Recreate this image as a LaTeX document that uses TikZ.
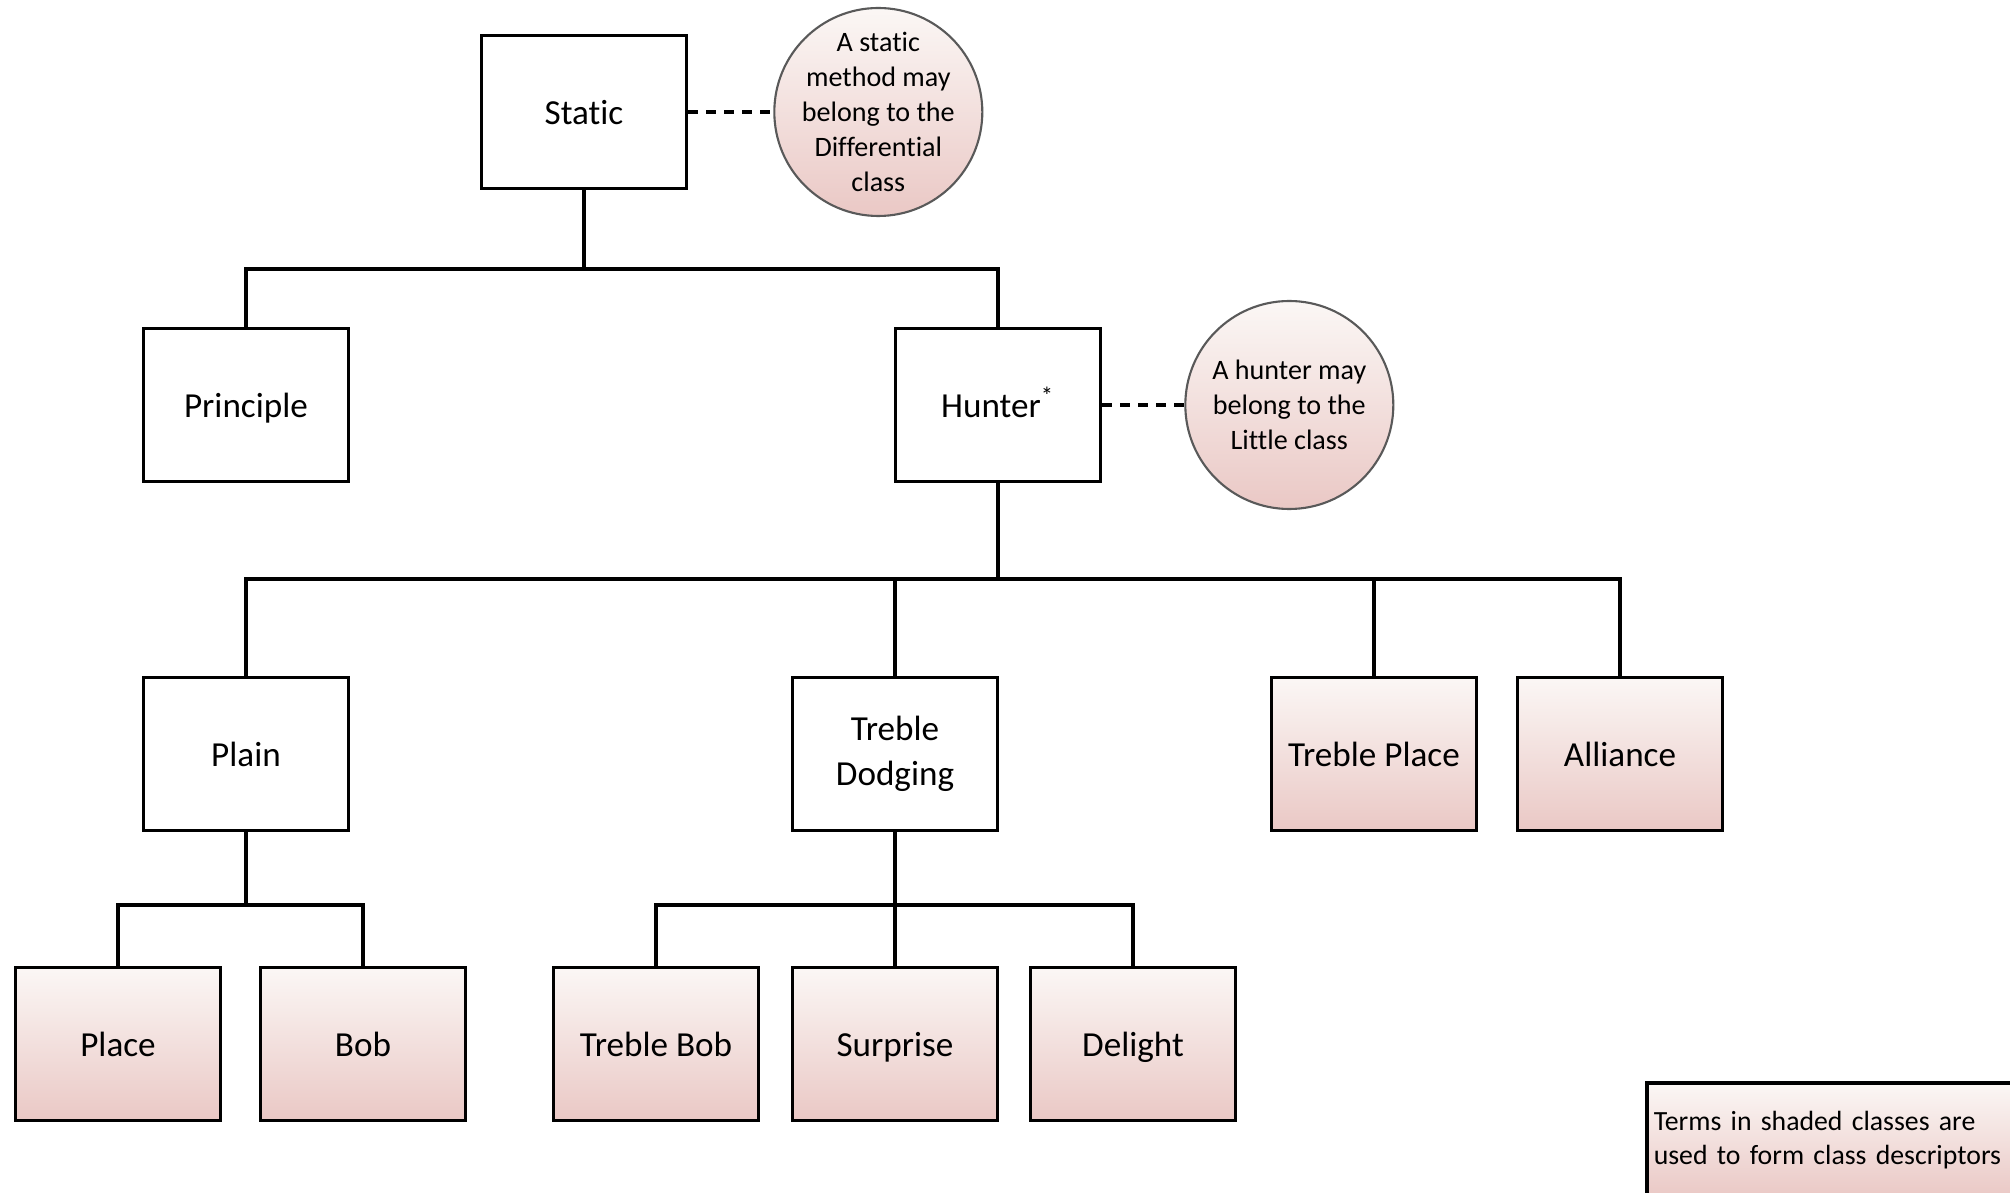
\documentclass[tikz,border=0pt]{standalone}
\usepackage{fontspec}
\setmainfont[Ligatures={NoCommon}]{Carlito}
\usetikzlibrary{positioning}
\definecolor{shadetop}{HTML}{FBF7F5}
\definecolor{shadebot}{HTML}{EAC8C5}
\tikzset{
  classbox/.style={draw, line width=1pt, minimum width=2.05cm, minimum height=1.53cm,
    align=center, inner sep=0pt, font=\fontsize{10}{12.8}\selectfont},
  oneline/.style={text height=0.92em, text depth=0.2em},
  shadedbox/.style={classbox, oneline, top color=shadetop, bottom color=shadebot},
  note/.style={circle, draw=black!65, line width=0.6pt, minimum size=2.08cm, inner sep=-0.15cm,
    top color=shadetop, bottom color=shadebot, align=center, font=\fontsize{8}{9.9}\selectfont},
  link/.style={line width=1pt},
  notelink/.style={line width=1pt, dash pattern=on 0.1cm off 0.08cm},
}

\begin{document}
\begin{tikzpicture}
    \useasboundingbox (0,0) rectangle (20.1,-11.93);
    % define classes
    % top
    \node[classbox, oneline] (static) at (5.84,-1.12) {Static};
    \node[note, right=0.85cm of static] (staticnote) {A static\\method may\\belong to the\\Differential\\class};
    % second row
    \node[classbox, oneline] (principle) at (2.46,-4.05) {Principle};
    \node[classbox, oneline] (hunter) at (9.98,-4.05) {Hunter\textsuperscript{*}};
    \node[note, right=0.82cm of hunter] (hunternote) {A hunter may\\belong to the\\Little class};
    % third row
    \node[classbox, oneline] (plain) at (2.46,-7.54) {Plain};
    \node[classbox] (trebledodging) at (8.95,-7.54) {Treble\\Dodging};
    \node[shadedbox] (trebleplace) at (13.74,-7.54) {Treble Place};
    \node[shadedbox] (alliance) at (16.20,-7.54) {Alliance};
    % bottom row
    \node[shadedbox] (place) at (1.18,-10.44) {Place};
    \node[shadedbox] (bob) at (3.63,-10.44) {Bob};
    \node[shadedbox] (treblebob) at (6.56,-10.44) {Treble Bob};
    \node[shadedbox] (surprise) at (8.95,-10.44) {Surprise};
    \node[shadedbox] (delight) at (11.33,-10.44) {Delight};
    % forks
    \coordinate (forkstatic) at (5.84,-2.69);
    \coordinate (forkhunter) at (9.98,-5.79);
    \coordinate (forkplain) at (2.46,-9.05);
    \coordinate (forkdodging) at (8.95,-9.05);
    % draw tree
    \draw[link] (static.south) -- (forkstatic) -| (principle.north);
    \draw[link] (forkstatic) -| (hunter.north);
    \draw[link] (hunter.south) -- (forkhunter) -| (plain.north);
    \draw[link] (forkhunter) -| (alliance.north);
    \draw[link] (trebledodging.north) -- (trebledodging |- forkhunter);
    \draw[link] (trebleplace.north) -- (trebleplace |- forkhunter);
    \draw[link] (plain.south) -- (forkplain) -| (place.north);
    \draw[link] (forkplain) -| (bob.north);
    \draw[link] (trebledodging.south) -- (forkdodging) -| (treblebob.north);
    \draw[link] (forkdodging) -| (delight.north);
    \draw[link] (surprise.north) -- (forkdodging);
    % notes
    \draw[notelink] (static.east) -- (staticnote.west);
    \draw[notelink] (hunter.east) -- (hunternote.west);
    % key
    \node[draw, line width=1pt, anchor=north west, top color=shadetop, bottom color=shadebot,
      text width=4cm, minimum height=1.15cm, inner xsep=0.07cm, align=left,
      font=\fontsize{7.9}{9.7}\selectfont] (key) at (16.45,-10.81)
      {Terms in shaded classes are\\used to form class descriptors};
\end{tikzpicture}
\end{document}
